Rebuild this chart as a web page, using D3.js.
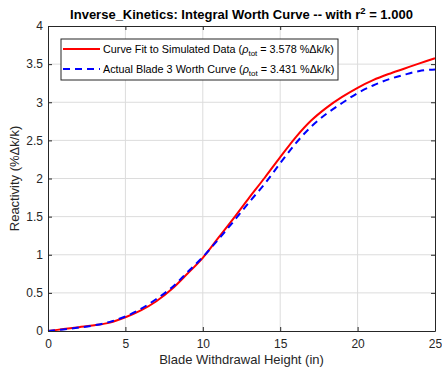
<!DOCTYPE html>
<html lang="en">
<head>
  <meta charset="UTF-8">
  <title>Integral Worth Curve</title>
  <script src="https://d3js.org/d3.v7.min.js"></script>
  <style>
    body { margin: 0; background: #fff; font-family: Arial, "Liberation Sans", sans-serif; }
    .grid line { stroke: #dcdcdc; stroke-width: 1; }
    .axis path, .axis line { stroke: #262626; }
    .axis text { fill: #262626; font-size: 12px; font-family: Arial, "Liberation Sans", sans-serif; }
  </style>
</head>
<body>
  <div id="chart"></div>
  <script>
    // blade height (in)
    const heights = [0, 1, 2, 3, 4, 5, 6, 7, 8, 9, 10, 11, 12, 13, 14, 15, 16, 17, 18, 19, 20, 21, 22, 23, 24, 25];
    // curve fit to simulated data
    const fitWorth = [0, 0.025, 0.05, 0.075, 0.11, 0.18, 0.27, 0.39, 0.55, 0.75, 0.96, 1.22, 1.48, 1.75, 2.01, 2.28, 2.54, 2.76, 2.93, 3.07, 3.19, 3.29, 3.37, 3.44, 3.51, 3.578];
    // actual blade 3 worth curve
    const bladeWorth = [0, 0.02, 0.045, 0.075, 0.12, 0.19, 0.29, 0.42, 0.57, 0.77, 0.97, 1.2, 1.44, 1.69, 1.93, 2.2, 2.46, 2.68, 2.85, 2.99, 3.12, 3.22, 3.3, 3.36, 3.41, 3.431];
    const xTicks = [0, 5, 10, 15, 20, 25];
    const yTicks = [0, 0.5, 1, 1.5, 2, 2.5, 3, 3.5, 4];

    const W = 442, H = 369;
    const margin = { top: 26, right: 7, bottom: 38, left: 48 };
    const width = W - margin.left - margin.right;
    const height = H - margin.top - margin.bottom;

    const svg = d3.select("#chart").append("svg")
      .attr("width", W)
      .attr("height", H);

    const g = svg.append("g")
      .attr("transform", `translate(${margin.left},${margin.top})`);

    const x = d3.scaleLinear().domain([0, 25]).range([0, width]);
    const y = d3.scaleLinear().domain([0, 4]).range([height, 0]);

    // grid
    g.append("g").attr("class", "grid")
      .selectAll("line").data(xTicks.slice(1, -1)).enter().append("line")
      .attr("x1", d => x(d)).attr("x2", d => x(d))
      .attr("y1", 0).attr("y2", height);
    g.append("g").attr("class", "grid")
      .selectAll("line").data(yTicks.slice(1, -1)).enter().append("line")
      .attr("y1", d => y(d)).attr("y2", d => y(d))
      .attr("x1", 0).attr("x2", width);

    // curves
    const fitData = heights.map((h, i) => [h, fitWorth[i]]);
    const bladeData = heights.map((h, i) => [h, bladeWorth[i]]);
    const line = d3.line()
      .x(d => x(d[0]))
      .y(d => y(d[1]))
      .curve(d3.curveCatmullRom.alpha(0.5));

    g.append("path").datum(fitData)
      .attr("d", line)
      .attr("fill", "none")
      .attr("stroke", "#ff0000")
      .attr("stroke-width", 2);

    g.append("path").datum(bladeData)
      .attr("d", line)
      .attr("fill", "none")
      .attr("stroke", "#0000ff")
      .attr("stroke-width", 2)
      .attr("stroke-dasharray", "7,5");

    // axes (ticks inside, box on)
    const tk = 4;
    g.append("g").attr("class", "axis")
      .attr("transform", `translate(0,${height})`)
      .call(d3.axisBottom(x).tickValues(xTicks).tickSize(-tk).tickPadding(8).tickSizeOuter(0));
    g.append("g").attr("class", "axis")
      .call(d3.axisLeft(y).tickValues(yTicks).tickSize(-tk).tickPadding(5).tickSizeOuter(0).tickFormat(d3.format("")));
    g.append("g").attr("class", "axis")
      .call(d3.axisTop(x).tickValues(xTicks).tickSize(-tk).tickSizeOuter(0).tickFormat(""));
    g.append("g").attr("class", "axis")
      .attr("transform", `translate(${width},0)`)
      .call(d3.axisRight(y).tickValues(yTicks).tickSize(-tk).tickSizeOuter(0).tickFormat(""));

    // title
    const title = svg.append("text")
      .attr("x", margin.left + width / 2)
      .attr("y", 19)
      .attr("text-anchor", "middle")
      .attr("font-size", "13px")
      .attr("font-weight", "bold")
      .attr("fill", "#000");
    title.append("tspan").text("Inverse_Kinetics: Integral Worth Curve -- with  r");
    title.append("tspan").attr("font-size", "9.5px").attr("dy", -5).text("2");
    title.append("tspan").attr("dy", 5).text(" = 1.000");

    // axis labels
    svg.append("text")
      .attr("x", margin.left + width / 2)
      .attr("y", 364)
      .attr("text-anchor", "middle")
      .attr("font-size", "13px")
      .attr("fill", "#262626")
      .text("Blade Withdrawal Height (in)");

    svg.append("text")
      .attr("transform", `translate(19,${margin.top + height / 2}) rotate(-90)`)
      .attr("text-anchor", "middle")
      .attr("font-size", "13px")
      .attr("fill", "#262626")
      .text("Reactivity (%\u0394k/k)");

    // legend
    const legend = svg.append("g").attr("transform", "translate(61,39)");
    legend.append("rect")
      .attr("width", 277).attr("height", 41)
      .attr("fill", "#fff").attr("stroke", "#262626").attr("stroke-width", 1);

    const items = [
      { color: "#ff0000", dash: null, name: "Curve Fit to Simulated Data (", val: fitWorth[fitWorth.length - 1] },
      { color: "#0000ff", dash: "7,5", name: "Actual Blade 3 Worth Curve (", val: bladeWorth[bladeWorth.length - 1] }
    ];
    items.forEach((it, i) => {
      const yy = 10 + i * 20;
      legend.append("line")
        .attr("x1", 2).attr("x2", 39).attr("y1", yy).attr("y2", yy)
        .attr("stroke", it.color).attr("stroke-width", 2)
        .attr("stroke-dasharray", it.dash);
      const t = legend.append("text")
        .attr("x", 42).attr("y", yy + 4)
        .attr("font-size", "10.8px")
        .attr("fill", "#000");
      t.append("tspan").text(it.name);
      t.append("tspan").attr("font-style", "italic").text("\u03C1");
      t.append("tspan").attr("font-size", "8px").attr("dy", 3).text("tot");
      t.append("tspan").attr("dy", -3).text(` = ${it.val.toFixed(3)} %\u0394k/k)`);
    });
  </script>
</body>
</html>
